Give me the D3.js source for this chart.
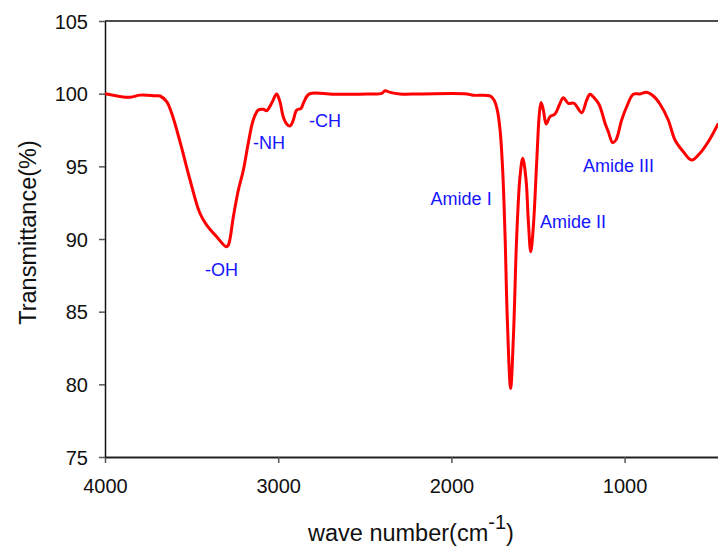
<!DOCTYPE html>
<html>
<head>
<meta charset="utf-8">
<script src="https://cdn.jsdelivr.net/npm/d3@7/dist/d3.min.js"></script>
<style>
  html, body { margin: 0; padding: 0; background: #fff; }
  svg { display: block; font-family: "Liberation Sans", Arial, sans-serif; }
</style>
</head>
<body>
<svg id="chart" width="718" height="549"></svg>
<script>
const wavenumber = [4000, 3856, 3798, 3711, 3682, 3644, 3615, 3567, 3509, 3452, 3413, 3355, 3301, 3288, 3259, 3230, 3201, 3173, 3144, 3115, 3086, 3067, 3038, 3009, 2990, 2971, 2951, 2932, 2916, 2893, 2868, 2851, 2820, 2682, 2489, 2402, 2383, 2354, 2297, 2181, 1912, 1874, 1777, 1754, 1735, 1719, 1704, 1690, 1677, 1658, 1642, 1623, 1604, 1588, 1569, 1556, 1542, 1527, 1507, 1492, 1482, 1469, 1453, 1431, 1402, 1377, 1354, 1325, 1292, 1248, 1219, 1200, 1181, 1148, 1132, 1113, 1094, 1069, 1050, 1017, 988, 950, 911, 873, 834, 796, 748, 709, 661, 613, 565, 517, 459];
const transmittance = [100.0, 99.75, 99.9, 99.86, 99.84, 99.45, 98.65, 96.7, 94.06, 91.77, 90.96, 90.15, 89.47, 89.58, 91.53, 93.37, 94.75, 96.58, 98.19, 98.87, 98.92, 98.83, 99.34, 99.98, 99.45, 98.41, 97.91, 97.77, 98.07, 98.87, 98.99, 99.45, 99.98, 99.96, 99.98, 100.02, 100.2, 100.09, 99.98, 99.98, 99.98, 99.89, 99.84, 99.56, 98.87, 97.5, 94.75, 90.15, 84.42, 79.72, 83.27, 90.15, 94.28, 95.55, 94.06, 91.3, 89.12, 90.84, 95.43, 98.65, 99.4, 98.87, 97.91, 98.41, 98.6, 99.22, 99.72, 99.34, 99.34, 98.69, 99.56, 99.96, 99.79, 99.27, 98.76, 97.96, 97.38, 96.63, 96.81, 98.19, 99.1, 99.96, 99.98, 100.09, 99.84, 99.29, 98.19, 96.81, 96.0, 95.43, 95.9, 96.69, 97.96];

const xTicks = [4000, 3000, 2000, 1000];
const yTicks = [75, 80, 85, 90, 95, 100, 105];

const annotLabels = ["-OH", "-NH", "-CH", "Amide I", "Amide II", "Amide III"];
const annotWave = [3423, 3145, 2822, 2120, 1488, 1240];
const annotT = [87.45, 96.19, 97.73, 92.34, 90.78, 94.63];

const svg = d3.select("#chart");
const mLeft = 105, mTop = 21, mBottom = 457, mRight = 718;

const x = d3.scaleLinear().domain([4000, 0]).range([mLeft, mLeft + 4 * 173.2]);
const y = d3.scaleLinear().domain([75, 105]).range([mBottom, mTop]);

svg.append("defs").append("clipPath").attr("id", "clip")
  .append("rect").attr("x", mLeft).attr("y", mTop - 5).attr("width", mRight - mLeft).attr("height", mBottom - mTop + 5);

// top border
svg.append("line").attr("x1", mLeft).attr("x2", mRight).attr("y1", mTop).attr("y2", mTop)
  .attr("stroke", "#111").attr("stroke-width", 1.5);

const xAxis = svg.append("g").attr("transform", `translate(0,${mBottom})`)
  .call(d3.axisBottom(x).tickValues(xTicks).tickSize(6).tickSizeOuter(0).tickFormat(d3.format("d")));
xAxis.select(".domain").attr("d", `M${mLeft},0.5H${mRight}`).attr("stroke", "#222").attr("stroke-width", 1.8);
xAxis.selectAll(".tick line").attr("stroke", "#555").attr("stroke-width", 1.5);
xAxis.selectAll(".tick text").attr("font-size", "20px").attr("fill", "#111").attr("dy", "0").attr("y", 36)
  .attr("font-family", "Liberation Sans, Arial, sans-serif");

const yAxis = svg.append("g").attr("transform", `translate(${mLeft},0)`)
  .call(d3.axisLeft(y).tickValues(yTicks).tickSize(6).tickSizeOuter(0));
yAxis.select(".domain").attr("stroke", "#111").attr("stroke-width", 1.5);
yAxis.selectAll(".tick line").attr("stroke", "#555").attr("stroke-width", 1.5);
yAxis.selectAll(".tick text").attr("font-size", "20px").attr("fill", "#111").attr("x", -17).attr("dy", "0.36em")
  .attr("font-family", "Liberation Sans, Arial, sans-serif");

const data = wavenumber.map((w, i) => ({w, t: transmittance[i]}));
const line = d3.line().x(d => x(d.w)).y(d => y(d.t)).curve(d3.curveCatmullRom.alpha(0.5));
svg.append("path").datum(data).attr("clip-path", "url(#clip)")
  .attr("d", line).attr("fill", "none").attr("stroke", "#ff0000").attr("stroke-width", 3)
  .attr("stroke-linejoin", "round");

// annotations
svg.append("g").selectAll("text").data(annotLabels).join("text")
  .attr("x", (d, i) => x(annotWave[i]))
  .attr("y", (d, i) => y(annotT[i]))
  .attr("font-size", "18px").attr("fill", "#1515ff")
  .text(d => d);

// axis titles
const xt = svg.append("text").attr("x", 308).attr("y", 541).attr("font-size", "23.5px").attr("fill", "#111");
xt.append("tspan").text("wave number(cm");
xt.append("tspan").attr("font-size", "20px").attr("dy", "-12").text("-1");
xt.append("tspan").attr("dy", "12").text(")");

svg.append("text").attr("transform", "translate(36,232.5) rotate(-90)")
  .attr("text-anchor", "middle").attr("font-size", "23.5px").attr("fill", "#111")
  .text("Transmittance(%)");
</script>
</body>
</html>
